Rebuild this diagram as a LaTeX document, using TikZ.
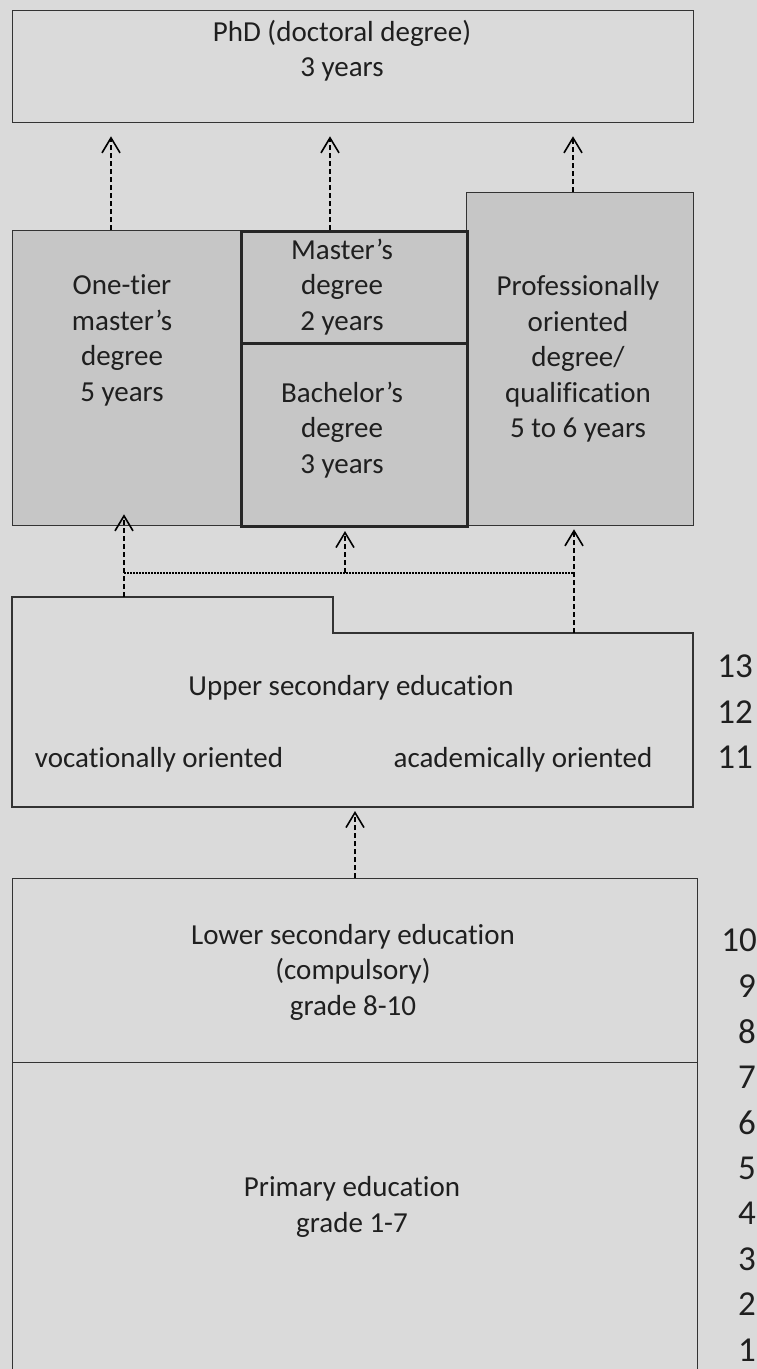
\documentclass[tikz,border=0pt]{standalone}
\usepackage{fontspec}
\setmainfont{Carlito}[Ligatures=NoCommon]
\usetikzlibrary{calc,arrows.meta}
\definecolor{bgtex}{RGB}{218,218,218}
\definecolor{boxgray}{RGB}{198,198,198}
\newcommand\lblfont{\fontsize{29}{35.5}\selectfont}

\begin{document}
\begin{tikzpicture}[x=1pt,y=-1pt,
 box/.style={draw=black!80,line width=1.3pt,inner sep=0pt,anchor=north west},
 thickbox/.style={box,fill=boxgray,draw=black!85,line width=3pt},
 txt/.style={align=center,inner sep=0pt,text=black!88,font=\lblfont},
 grade/.style={inner sep=0pt,text=black!88,font=\fontsize{35}{35}\selectfont},
 arr/.style={line width=1.6pt,dash pattern=on 5pt off 3pt,
   -{Straight Barb[length=15pt,width=18pt,line width=1.6pt]}}]
\fill[bgtex] (0,0) rectangle (757,1369);
\useasboundingbox (0,0) rectangle (757,1369);
% top row
\node[box,minimum width=681pt,minimum height=112pt] (phd) at (12,10) {};
\node[box,fill=boxgray,minimum width=228pt,minimum height=295pt] (onetier) at (12,230) {};
\node[box,fill=boxgray,minimum width=227pt,minimum height=333pt] (prof) at (466,192) {};
\node[thickbox,minimum width=226pt,minimum height=112pt] (master) at (240,230) {};
\node[thickbox,minimum width=226pt,minimum height=183pt] (bachelor) at (240,342) {};
% upper secondary, stepped top
\draw[draw=black!80,line width=1.3pt] (12,597) coordinate (upL) -- (333,597) -- (333,633)
  -- (693,633) coordinate (upR) -- (693,807) -- (12,807) coordinate (upB) -- cycle;
\node[box,minimum width=685pt,minimum height=184pt] (lower) at (12,878) {};
\node[box,minimum width=685pt,minimum height=330pt] (primary) at (12,1062) {};
% texts
\node[txt] (tphd) at (342,50.5) {PhD (doctoral degree)\\3 years};
\node[txt] (tone) at (122,340.5) {One-tier\\master’s\\degree\\5 years};
\node[txt] (tmas) at (342,287) {Master’s\\degree\\2 years};
\node[txt] (tbac) at (342,430) {Bachelor’s\\degree\\3 years};
\node[txt] (tpro) at (578,359) {Professionally\\oriented\\degree/\\qualification\\5 to 6 years};
\node[txt] (tup) at (351,688) {Upper secondary education};
\node[txt] (tvoc) at (159,760) {vocationally oriented};
\node[txt] (taca) at (523,760) {academically oriented};
\node[txt] (tlow) at (353,972) {Lower secondary education\\(compulsory)\\grade 8-10};
\node[txt] (tpri) at (352,1207) {Primary education\\grade 1-7};
% grades
\foreach \n/\y in {13/666,12/712,11/757}
 \node[grade] (g\n) at (735,\y) {\n};
\foreach \n in {1,...,9}
 \node[grade] (g\n) at (747,1350-45.5*\n+45.5) {\n};
\node[grade,anchor=east] (g10) at (757,940) {10};
% arrows
\coordinate (join) at (124,573);
\coordinate (joinR) at (574,573);
\draw[arr,shorten >=13pt] (onetier.north -| 111,0) -- (phd.south -| 111,0);
\draw[arr,shorten >=13pt] (master.north -| 330,0) -- (phd.south -| 330,0);
\draw[arr,shorten >=13pt] (prof.north -| 573,0) -- (phd.south -| 573,0);
\draw[line width=1.5pt,dash pattern=on 1.5pt off 1.5pt] (join) -- (joinR);
\draw[arr,shorten >=-12pt] (upL -| join) -- (onetier.south -| join);
\draw[arr,shorten >=3pt] (join -| 345,0) -- (bachelor.south -| 345,0);
\draw[arr,shorten >=3pt] (upR -| joinR) -- (prof.south -| joinR);
\draw[arr,shorten >=4pt] (lower.north -| 355,0) -- (upB -| 355,0);
\end{tikzpicture}
\end{document}
